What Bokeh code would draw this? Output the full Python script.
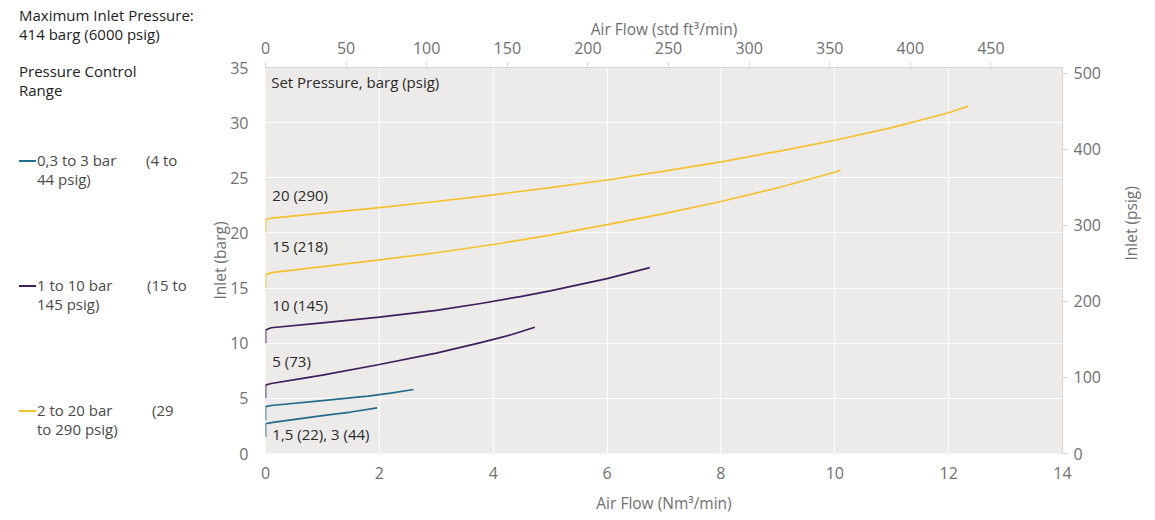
import math
from bokeh.plotting import figure
from bokeh.models import Range1d, LinearAxis, FixedTicker, Label, Div
from bokeh.layouts import row
from bokeh.embed import file_html
from bokeh.resources import INLINE

# ---------------- data (Air flow Nm3/min, inlet barg) ----------------
y20_x = [0, 0, 0.1, 1, 2, 3, 4, 5, 6, 7, 8, 9, 10, 11, 12, 12.34]
y20_y = [20, 21.2, 21.35, 21.8, 22.3, 22.85, 23.45, 24.1, 24.8, 25.6, 26.45, 27.4, 28.4, 29.55, 30.9, 31.5]

y15_x = [0, 0, 0.1, 1, 2, 3, 4, 5, 6, 7, 8, 9, 10, 10.1]
y15_y = [15, 16.2, 16.4, 16.95, 17.55, 18.2, 18.95, 19.8, 20.75, 21.75, 22.85, 24.1, 25.5, 25.7]

p10_x = [0, 0, 0.1, 1, 2, 3, 3.78, 4.5, 5, 6, 6.75]
p10_y = [10, 11.2, 11.4, 11.85, 12.36, 12.98, 13.6, 14.25, 14.75, 15.85, 16.86]

p5_x = [0, 0, 0.1, 0.6, 1, 2, 3, 3.78, 4.3, 4.73]
p5_y = [5, 6.2, 6.35, 6.77, 7.1, 8.07, 9.1, 10.05, 10.75, 11.45]

t3_x = [0, 0, 0.1, 1, 1.8, 2.2, 2.6]
t3_y = [3.0, 4.25, 4.35, 4.8, 5.2, 5.47, 5.8]

t15_x = [0, 0, 0.1, 1, 1.5, 1.96]
t15_y = [1.5, 2.7, 2.8, 3.43, 3.76, 4.14]

curve_labels = ["20 (290)", "15 (218)", "10 (145)", "5 (73)", "1,5 (22), 3 (44)"]
curve_label_y = [23.4, 18.8, 13.5, 8.35, 1.8]

legend_names = ["0,3 to 3 bar", "1 to 10 bar", "2 to 20 bar"]
legend_psig_a = ["(4 to", "(15 to", "(29"]
legend_psig_b = ["44 psig)", "145 psig)", "to 290 psig)"]

bottom_ticks = [0, 2, 4, 6, 8, 10, 12, 14]
left_ticks = [0, 5, 10, 15, 20, 25, 30, 35]
top_ticks = [0, 50, 100, 150, 200, 250, 300, 350, 400, 450]
right_ticks = [0, 100, 200, 300, 400, 500]

NM3_TO_CFM = 35.3147
BAR_TO_PSI = 14.5038

TEAL = "#246c8c"
PURPLE = "#3e1f5c"
YELLOW = "#f6c12f"
FONT = "Open Sans"
TICK_COL = "#707070"

LEFTW = 200
W, H = 1155, 520
FL, FR, FT, FB = 265, 1064, 67, 453  # frame edges on the page

# ---------------- left text panel ----------------
def absdiv(x, y, inner, size=15, color="#222222"):
    return (f'<div style="position:absolute;left:{x}px;top:{y}px;white-space:nowrap;'
            f'font-family:\'Open Sans\';font-size:{size}px;line-height:19px;color:{color};">'
            f'{inner}</div>')

parts = [absdiv(19, 6, "Maximum Inlet Pressure:<br>414 barg (6000 psig)", 15),
         absdiv(19, 62, "Pressure Control<br>Range", 15)]
legend_cols = [TEAL, PURPLE, YELLOW]
legend_y = [161, 286, 411]
legend_xb = [146, 147, 152]
for col, name, a, b, yy, xb in zip(legend_cols, legend_names, legend_psig_a, legend_psig_b,
                                  legend_y, legend_xb):
    parts.append(f'<div style="position:absolute;left:19px;top:{yy - 1}px;width:17px;'
                 f'height:2px;background:{col};"></div>')
    parts.append(absdiv(37, yy - 10, f"{name}<br>{b}", 15, "#4a4a4a"))
    parts.append(absdiv(xb, yy - 10, a, 15, "#4a4a4a"))

html = (f'<div style="position:relative;width:{LEFTW}px;height:{H}px;">'
        + "".join(parts) + '</div>')
left = Div(text=html, width=LEFTW, height=H, margin=0)

# ---------------- main chart ----------------
p = figure(width=W - LEFTW, height=H, x_range=Range1d(0, 14), y_range=Range1d(0, 35),
           output_backend="svg", toolbar_location=None, margin=0,
           min_border_left=FL - LEFTW, min_border_right=W - FR,
           min_border_top=FT, min_border_bottom=H - FB)
p.background_fill_color = "#ecebe9"
p.border_fill_color = "white"
p.outline_line_color = None

p.extra_x_ranges = {"cfm": Range1d(0, 14 * NM3_TO_CFM)}
p.extra_y_ranges = {"psig": Range1d(0, 35 * BAR_TO_PSI)}

def style(ax):
    ax.minor_tick_line_color = None
    ax.major_label_text_font = FONT
    ax.major_label_text_font_size = "16px"
    ax.major_label_text_color = TICK_COL
    ax.axis_label_text_font = FONT
    ax.axis_label_text_font_size = "15.5px"
    ax.axis_label_text_font_style = "normal"
    ax.axis_label_text_color = TICK_COL

for ax in [p.xaxis[0], p.yaxis[0]]:
    style(ax)
    ax.axis_line_color = None
    ax.major_tick_line_color = None

p.xaxis[0].ticker = FixedTicker(ticks=bottom_ticks)
p.yaxis[0].ticker = FixedTicker(ticks=left_ticks)
p.xaxis[0].axis_label = "Air Flow (Nm³/min)"
p.yaxis[0].axis_label = "Inlet (barg)"
p.xaxis[0].major_label_standoff = 7
p.xaxis[0].axis_label_standoff = 10
p.yaxis[0].major_label_standoff = 11
p.yaxis[0].axis_label_standoff = -4

top = LinearAxis(x_range_name="cfm", ticker=FixedTicker(ticks=top_ticks),
                 axis_label="Air Flow (std ft³/min)")
right = LinearAxis(y_range_name="psig", ticker=FixedTicker(ticks=right_ticks),
                   axis_label="Inlet (psig)")
for ax in [top, right]:
    style(ax)
    ax.axis_line_color = "#d4d4d4"
    ax.major_tick_line_color = "#d4d4d4"
    ax.major_tick_out = 5
    ax.major_tick_in = 0
top.major_label_standoff = 9
top.axis_label_standoff = -1
right.major_label_standoff = 6
right.axis_label_standoff = 27
right.axis_label_orientation = math.pi / 2
p.add_layout(top, "above")
p.add_layout(right, "right")

p.xgrid.ticker = FixedTicker(ticks=bottom_ticks)
p.ygrid.ticker = FixedTicker(ticks=left_ticks)
p.grid.grid_line_color = "white"
p.grid.grid_line_width = 1.2

for xs, ys, col in [(y20_x, y20_y, YELLOW), (y15_x, y15_y, YELLOW),
                    (p10_x, p10_y, PURPLE), (p5_x, p5_y, PURPLE),
                    (t3_x, t3_y, TEAL), (t15_x, t15_y, TEAL)]:
    p.line(xs, ys, line_color=col, line_width=1.7)

p.add_layout(Label(x=0.1, y=33.7, text="Set Pressure, barg (psig)", text_font=FONT,
                   text_font_size="15px", text_color="#2a2a2a", text_baseline="middle"))
for t, yy in zip(curve_labels, curve_label_y):
    p.add_layout(Label(x=0.12, y=yy, text=t, text_font=FONT, text_font_size="15px",
                       text_color="#2a2a2a", text_baseline="middle"))

layout = row(left, p, spacing=0)
open("out.html", "w").write(file_html(layout, INLINE))
